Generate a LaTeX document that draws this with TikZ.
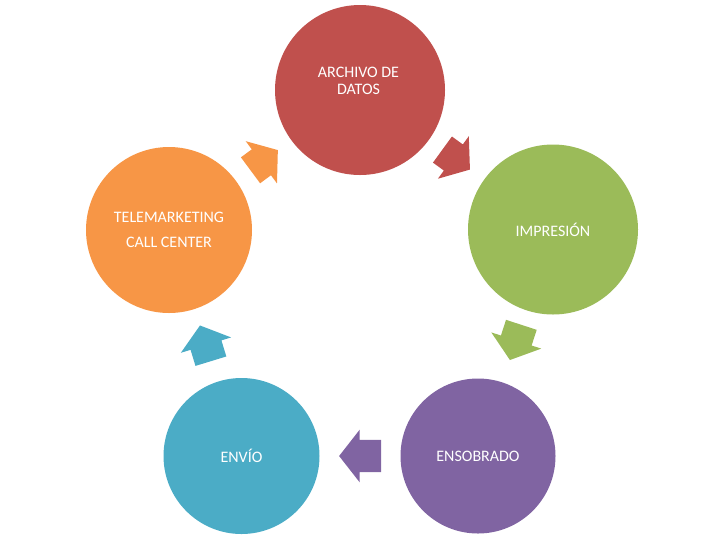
\documentclass[tikz,border=0pt]{standalone}
\usepackage{fontspec}
\setmainfont{Carlito}
\usepackage{xcolor}
\usepackage{tikz}
\usetikzlibrary{shapes.arrows,positioning,calc}

\definecolor{archivored}{HTML}{C0504D}
\definecolor{impresiongreen}{HTML}{9BBB59}
\definecolor{ensobradopurple}{HTML}{8064A2}
\definecolor{envioblue}{HTML}{4BACC6}
\definecolor{teleorange}{HTML}{F79646}

\tikzset{
  stage/.style={circle, inner sep=0pt, text=white, align=center, font=\fontsize{12}{13}\selectfont},
  stagetext/.style={inner sep=0pt, text=white, align=center, font=\fontsize{12}{13}\selectfont},
  cyclearrow/.style={single arrow, inner xsep=0pt, inner ysep=11.9pt, single arrow head extend=7.6pt, single arrow tip angle=104, anchor=center}
}

\begin{document}
\begin{tikzpicture}[x=0.75pt,y=-0.75pt]
% Canvas
\useasboundingbox (0,0) rectangle (717,537);

% Stages
\node[stage, fill=archivored, minimum size=127.5pt] (archivo) at (360,90) {};
\node[stagetext] (archivotext) at (358.5,80.7) {ARCHIVO DE\\DATOS};
\node[stage, fill=impresiongreen, minimum size=127.5pt] (impresion) at (553,229.5) {IMPRESIÓN};
\node[stage, fill=ensobradopurple, minimum size=116.25pt] (ensobrado) at (478,456) {ENSOBRADO};
\node[stage, fill=envioblue, minimum size=117pt] (envio) at (241.5,456) {ENVÍO};
\node[stage, fill=teleorange, minimum size=124.5pt] (tele) at (169,230) {TELEMARKETING\\[5.75pt]CALL CENTER};

% Block arrows between stages (pulled back a little toward the tail)
\node[cyclearrow, fill=archivored, minimum height=25.5pt, rotate=-36] (archivoarrow) at ($(archivo)!0.5!(impresion)!5pt!(archivo)$) {};
\node[cyclearrow, fill=impresiongreen, minimum height=27.75pt, rotate=-108] (impresionarrow) at ($(impresion)!0.5!(ensobrado)!5pt!(impresion)$) {};
\node[cyclearrow, fill=ensobradopurple, minimum height=31.5pt, rotate=180] (ensobradoarrow) at ($(ensobrado)!0.5!(envio)!5pt!(ensobrado)$) {};
\node[cyclearrow, fill=envioblue, minimum height=28pt, rotate=107] (envioarrow) at ($(envio)!0.5!(tele)!5pt!(envio)$) {};
\node[cyclearrow, fill=teleorange, minimum height=25.5pt, rotate=36.5] (telearrow) at ($(tele)!0.5!(archivo)!5pt!(tele)$) {};

\end{tikzpicture}
\end{document}
